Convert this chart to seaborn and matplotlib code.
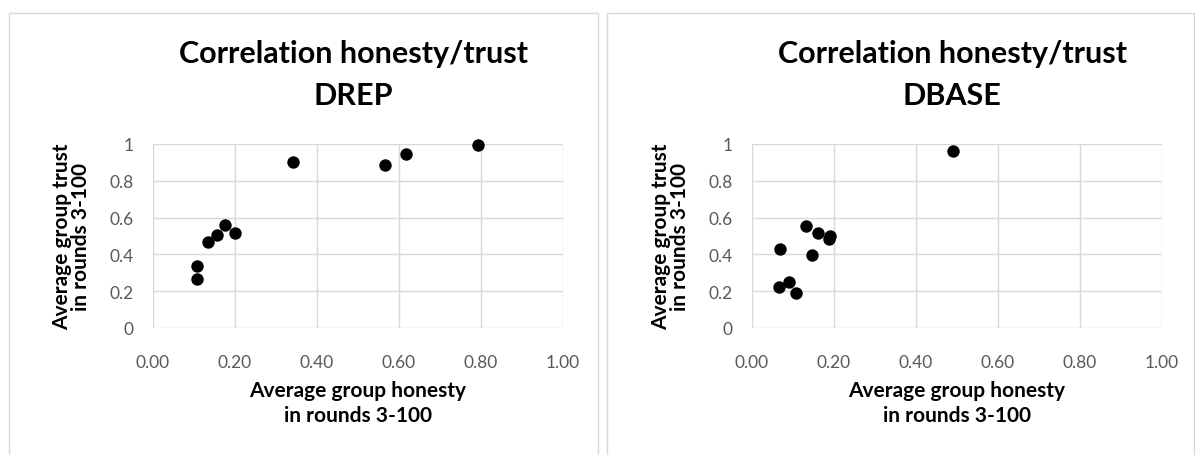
import matplotlib
matplotlib.use("Agg")
import matplotlib.pyplot as plt
import seaborn as sns
import pandas as pd
from matplotlib.patches import Rectangle

# Data
drep_honesty = [0.108, 0.108, 0.133, 0.155, 0.176, 0.201, 0.341, 0.567, 0.616, 0.793]
drep_trust   = [0.335, 0.269, 0.468, 0.506, 0.561, 0.515, 0.900, 0.886, 0.948, 0.996]
dbase_honesty = [0.069, 0.065, 0.090, 0.107, 0.132, 0.147, 0.160, 0.191, 0.187, 0.490]
dbase_trust   = [0.430, 0.224, 0.248, 0.192, 0.555, 0.396, 0.515, 0.501, 0.483, 0.964]
titles = ["Correlation honesty/trust\nDREP", "Correlation honesty/trust\nDBASE"]
x_ticks = [0.0, 0.2, 0.4, 0.6, 0.8, 1.0]
x_ticklabels = ["0.00", "0.20", "0.40", "0.60", "0.80", "1.00"]
y_ticks = [0.0, 0.2, 0.4, 0.6, 0.8, 1.0]
y_ticklabels = ["0", "0.2", "0.4", "0.6", "0.8", "1"]
xlabel = "Average group honesty\nin rounds 3-100"
ylabel = "Average group trust\nin rounds 3-100"

sns.set_theme(style="white")
plt.rcParams["font.family"] = ["Lato", "DejaVu Sans"]

W, H = 1195, 456
fig = plt.figure(figsize=(W / 100, H / 100), dpi=100)

def fx(px):
    return px / W

def fy(py):
    return 1 - py / H

# panel borders
for (x0, x1) in [(9, 598), (607, 1194)]:
    fig.patches.append(Rectangle((fx(x0), fy(470)), fx(x1) - fx(x0), fy(14) - fy(470),
                                 transform=fig.transFigure, fill=False,
                                 edgecolor="#d9d9d9", linewidth=1.0))

datasets = [(drep_honesty, drep_trust), (dbase_honesty, dbase_trust)]
axes_px = [(153, 563), (752, 1162)]
grid_c = "#d9d9d9"
tick_c = "#595959"

for i, ((hx, ty), (ax0, ax1)) in enumerate(zip(datasets, axes_px)):
    ax = fig.add_axes([fx(ax0), fy(329), fx(ax1) - fx(ax0), fy(145) - fy(329)])
    df = pd.DataFrame({"honesty": hx, "trust": ty})
    sns.scatterplot(data=df, x="honesty", y="trust", ax=ax, color="black",
                    s=80, edgecolor="black", linewidth=0, zorder=3, clip_on=False)
    ax.set_xlim(0, 1)
    ax.set_ylim(0, 1)
    ax.set_xticks(x_ticks)
    ax.set_xticklabels(x_ticklabels)
    ax.set_yticks(y_ticks)
    ax.set_yticklabels(y_ticklabels)
    ax.grid(True, color=grid_c, linewidth=1.0)
    for sp in ax.spines.values():
        sp.set_visible(False)
    ax.tick_params(axis="both", length=0, colors=tick_c, labelsize=12.5)
    ax.tick_params(axis="x", pad=19)
    ax.tick_params(axis="y", pad=14)
    ax.set_xlabel("")
    ax.set_ylabel("")
    cx = (ax0 + ax1) / 2
    # x label lines
    fig.text(fx(cx), fy(391), xlabel.split("\n")[0], ha="center", va="center",
             fontsize=15, fontweight="bold", color="black")
    fig.text(fx(cx), fy(416), xlabel.split("\n")[1], ha="center", va="center",
             fontsize=15, fontweight="bold", color="black")
    # y label lines
    yc = 237
    lx = ax0 - 91
    fig.text(fx(lx), fy(yc), ylabel.split("\n")[0], ha="center", va="center",
             rotation=90, fontsize=15, fontweight="bold", color="black")
    fig.text(fx(lx + 19), fy(yc), ylabel.split("\n")[1], ha="center", va="center",
             rotation=90, fontsize=15, fontweight="bold", color="black")
    # title lines
    tx = cx - 5
    fig.text(fx(tx), fy(54), titles[i].split("\n")[0], ha="center", va="center",
             fontsize=22, fontweight="bold", color="black")
    fig.text(fx(tx), fy(96), titles[i].split("\n")[1], ha="center", va="center",
             fontsize=22, fontweight="bold", color="black")

fig.savefig("out.png", dpi=100, facecolor="white")
